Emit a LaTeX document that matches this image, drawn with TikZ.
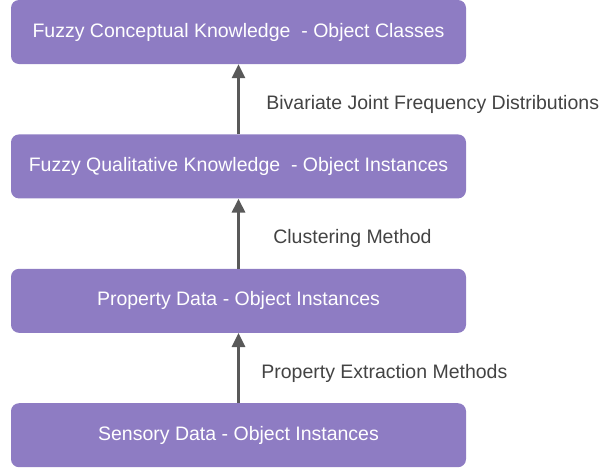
\documentclass[tikz,border=0pt]{standalone}
\usepackage{fontspec}
\setmainfont{Liberation Sans}
\usetikzlibrary{positioning, arrows.meta}
\definecolor{boxpurple}{HTML}{8E7CC3}
\definecolor{arrowgray}{HTML}{595959}
\definecolor{labelgray}{HTML}{434343}
\tikzset{level/.style={rectangle, rounded corners=8pt, fill=boxpurple, text=white,
    minimum width=455pt, minimum height=64pt, inner sep=0pt, font=\fontsize{19.5}{22}\selectfont},
  steplabel/.style={text=labelgray, font=\fontsize{19.5}{22}\selectfont, yshift=-5pt},
  >={Triangle[width=13pt,length=14pt]}, node distance=70pt}

\begin{document}
\begin{tikzpicture}
\useasboundingbox (0,0) rectangle (600pt,-472pt);
\node[level] (concept) at (238.5pt,-32pt) {Fuzzy Conceptual Knowledge \ - Object Classes};
\node[level, below=of concept] (quali) {Fuzzy Qualitative Knowledge \ - Object Instances};
\node[level, below=of quali] (prop) {Property Data - Object Instances};
\node[level, below=of prop] (sense) {Sensory Data - Object Instances};
\draw[->, arrowgray, line width=3pt] (quali) edge node[right=23pt, steplabel] {Bivariate Joint Frequency Distributions} (concept)
(prop) edge node[right=30pt, steplabel] {Clustering Method} (quali)
(sense) edge node[right=18pt, steplabel] {Property Extraction Methods} (prop);
\end{tikzpicture}
\end{document}
